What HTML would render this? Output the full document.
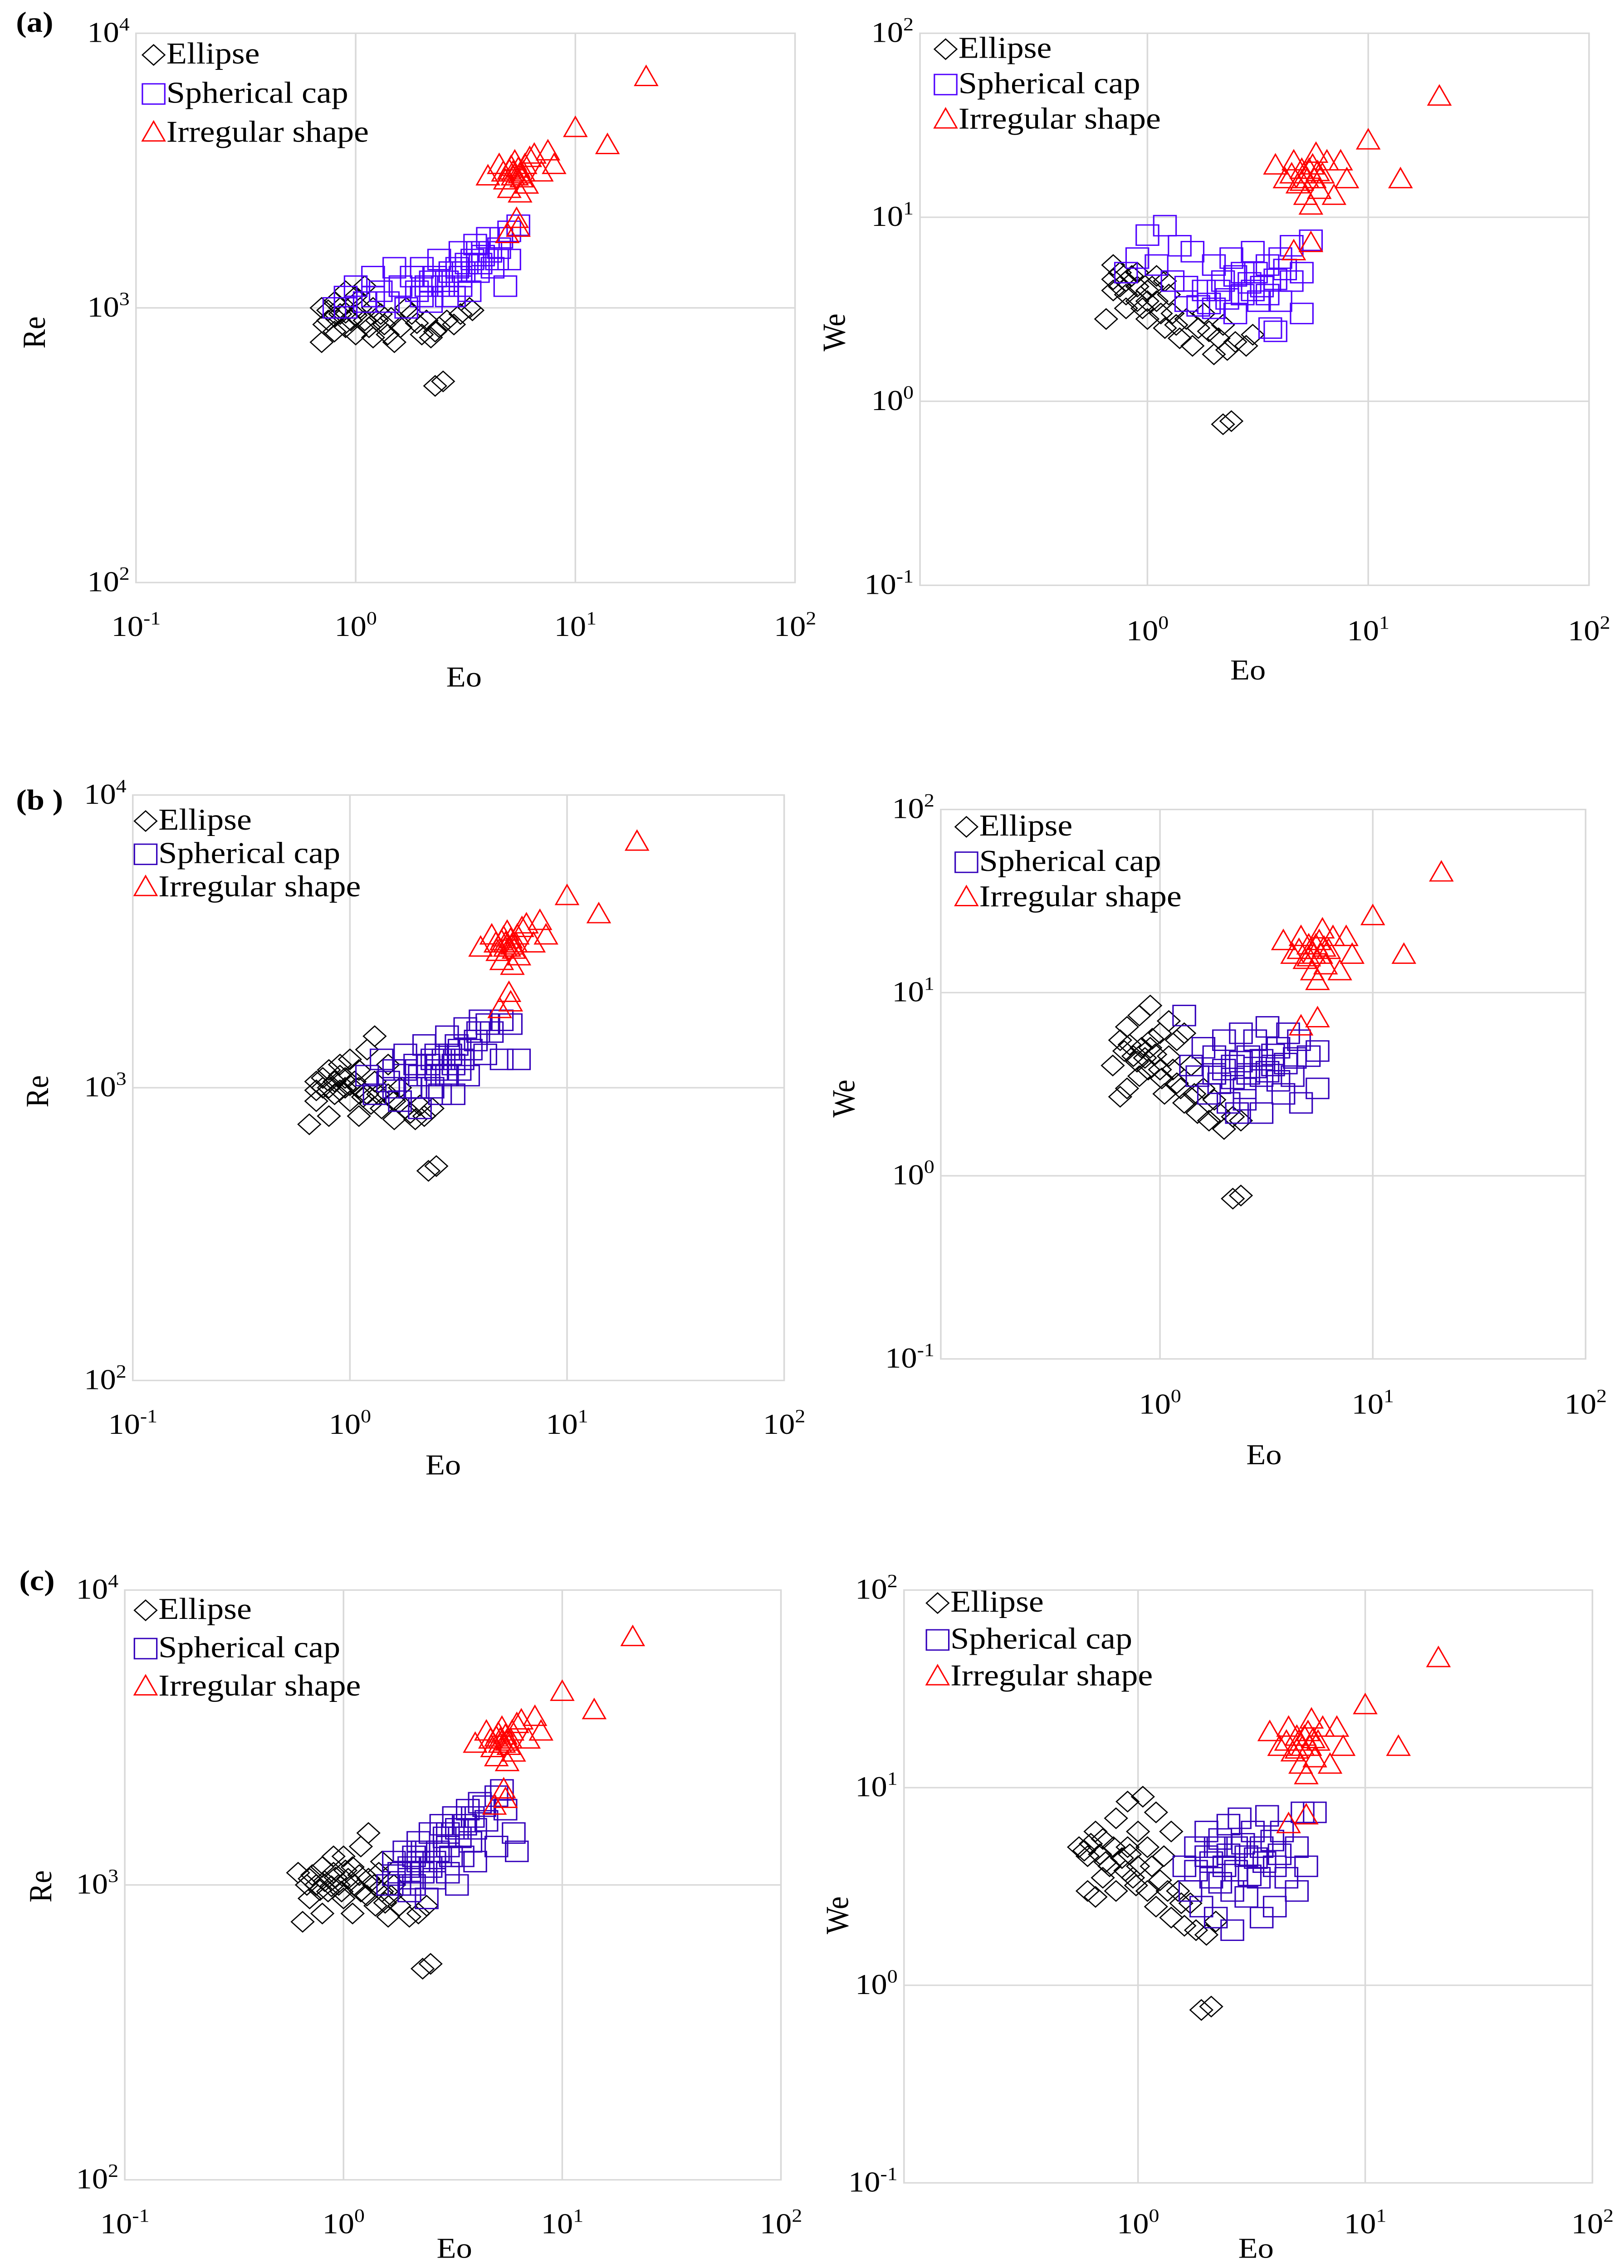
<!DOCTYPE html>
<html><head><meta charset="utf-8"><title>Re/We vs Eo scatter panels</title>
<style>html,body{margin:0;padding:0;background:#fff;width:100%;height:100%;overflow:hidden}svg{display:block;position:fixed;left:0;top:0;width:100vw;height:100vh}text{font-family:"Liberation Serif",serif;fill:#000}</style>
</head><body>
<svg id="fig" viewBox="0 0 1015 1569" preserveAspectRatio="none" xmlns="http://www.w3.org/2000/svg"></svg>
<script>
// ---- data (Eo, value) ----
const irregularRe=[[21,6900],[10,4500],[14,3900],[5.2,3000],[5.5,3200],[4.8,2900],[5.8,3100],[6.2,3500],[4.5,3300],[5,2700],[5.6,2600],[6.5,3600],[7.5,3700],[7,3100],[4,3000],[5.3,3400],[6,2800],[5.4,2100],[8,3300],[4.7,3100],[5.1,3250],[5.7,2950],[5.5,1950],[4.9,1850],[5.2,3100],[5.4,3000],[5.9,3300],[5.0,3150],[5.6,3050]];
const irregularWe=[[21,45],[10,26],[14,16],[5,18],[5.3,16],[4.8,15],[5.6,19],[6,14],[4.5,17],[5.8,22],[6.5,20],[7.5,20],[8,16],[7,13],[3.8,19],[4.2,16],[5.2,13],[5.5,11.5],[6.2,17],[4.6,20],[5.5,7.2],[4.6,6.5],[5.1,17],[5.4,18],[5.7,16],[5.0,15.5],[5.9,17.5]];
const ellipseReA=[[0.7,750],[0.75,900],[0.7,1000],[0.8,1050],[0.85,950],[0.9,850],[1.0,800],[1.1,900],[1.2,1000],[1.0,1100],[0.9,1150],[1.3,950],[1.4,800],[1.5,750],[1.6,850],[1.8,950],[2.0,800],[2.2,780],[2.4,850],[2.6,900],[3.0,950],[3.3,1000],[1.2,780],[0.8,820],[1.7,1000],[2.1,900],[2.3,520],[2.5,540],[1.1,1200],[3.4,980],[0.75,980],[0.8,930],[0.85,1000],[0.9,960],[0.95,900],[1.0,940],[1.05,1000],[1.15,850],[1.25,900],[1.35,870],[1.45,920],[1.9,880],[2.3,820],[2.8,870],[0.72,870]];
const capReA=[[0.8,1000],[0.9,1100],[1.0,1200],[1.1,1050],[1.2,1300],[1.3,1150],[1.5,1400],[1.6,1200],[1.8,1300],[2.0,1100],[2.0,1400],[2.2,1250],[2.4,1500],[2.5,1200],[2.7,1350],[3.0,1600],[3.0,1300],[3.2,1450],[3.5,1700],[3.6,1350],[3.8,1550],[4.0,1800],[4.2,1400],[4.5,1650],[5.0,1900],[5.5,2000],[5.0,1500],[4.8,1200],[1.4,1050],[2.8,1100],[3.3,1150],[1.7,1000],[2.1,1200],[2.3,1300],[2.6,1250],[2.9,1400],[3.1,1350],[3.4,1500],[3.7,1450],[4.1,1600],[4.4,1500],[1.9,1150],[2.2,1050],[2.6,1100],[3.0,1200],[3.6,1600],[4.6,1800],[1.2,1100],[0.9,1000]];
const ellipseReB=[[0.65,750],[0.7,1050],[0.7,900],[0.75,1000],[0.8,1150],[0.8,800],[0.85,950],[0.9,1100],[0.95,1000],[1.0,1250],[1.0,900],[1.05,1050],[1.1,1150],[1.1,800],[1.2,1350],[1.2,950],[1.3,1500],[1.3,1050],[1.4,850],[1.5,1200],[1.5,950],[1.6,780],[1.7,1000],[1.8,850],[2.0,780],[2.2,800],[2.4,850],[0.9,1200],[2.3,520],[2.5,540],[0.7,980],[0.75,1080],[0.8,1000],[0.85,1050],[0.9,980],[0.95,1080],[1.0,1020],[1.1,1000],[1.15,930],[1.25,880],[1.35,950],[1.6,900],[1.9,820],[2.1,870]];
const capReB=[[1.2,1100],[1.3,950],[1.4,1250],[1.5,1050],[1.6,1150],[1.7,900],[1.8,1300],[1.9,1000],[2.0,1200],[2.1,850],[2.2,1400],[2.3,1100],[2.5,1300],[2.6,950],[2.8,1500],[3.0,1200],[3.2,1350],[3.4,1600],[3.5,1100],[3.8,1450],[4.0,1700],[4.2,1300],[4.5,1550],[5.0,1700],[5.5,1650],[5.0,1250],[6.0,1250],[2.4,1000],[3.0,950],[1.8,1150],[2.1,1100],[2.3,1200],[2.5,1150],[2.7,1250],[2.9,1300],[3.1,1400],[3.3,1250],[3.6,1350],[3.9,1550],[4.3,1650],[2.0,1000],[2.4,1250],[2.8,1100],[3.2,1150],[1.6,1000]];
const ellipseReC=[[0.62,1100],[0.65,750],[0.7,1050],[0.7,900],[0.75,1000],[0.8,1150],[0.8,800],[0.85,950],[0.9,1100],[0.95,1000],[1.0,1250],[1.0,900],[1.05,1050],[1.1,1150],[1.1,800],[1.2,1350],[1.2,950],[1.3,1500],[1.3,1050],[1.4,850],[1.5,1200],[1.5,950],[1.6,780],[1.7,1000],[1.8,850],[2.0,780],[2.2,800],[2.4,850],[0.9,1250],[2.3,520],[2.5,540],[0.68,1000],[0.72,1080],[0.78,960],[0.82,1030],[0.88,990],[0.92,1060],[0.98,950],[1.02,1120],[1.12,1000],[1.18,1080],[1.28,920],[1.38,1000],[1.45,1100],[1.55,870],[1.65,920]];
const capReC=[[1.6,1000],[1.7,1200],[1.8,1100],[1.9,1300],[2.0,950],[2.1,1250],[2.2,1400],[2.3,1100],[2.5,1500],[2.6,1200],[2.8,1600],[3.0,1350],[3.0,1100],[3.2,1700],[3.4,1450],[3.5,1250],[3.7,1800],[4.0,1550],[4.2,1900],[4.5,1650],[5.0,2000],[5.3,2100],[5.5,1800],[6.0,1500],[5.0,1350],[4.0,1200],[2.4,900],[3.3,1000],[6.2,1300],[2.0,1150],[1.8,1000],[2.0,1050],[2.2,1200],[2.3,1300],[2.5,1150],[2.7,1300],[2.9,1450],[3.1,1250],[3.3,1550],[3.6,1600],[3.9,1700],[4.4,1850],[1.7,1080],[2.1,1000],[2.6,1050],[3.0,1500],[3.8,1400]];
const ellipseWeA=[[0.65,2.8],[0.7,4],[0.7,5.5],[0.8,4.5],[0.8,3.2],[0.9,5],[0.9,3.5],[1.0,4],[1.0,2.8],[1.1,3.5],[1.2,2.5],[1.2,4.5],[1.3,3],[1.4,2.2],[1.5,2.8],[1.6,2],[1.7,2.5],[1.8,3],[2.0,1.8],[2.1,2.2],[2.3,1.9],[2.5,2.1],[2.8,2.0],[3.0,2.3],[2.2,0.75],[2.4,0.78],[0.75,5.0],[1.1,4.8],[0.7,4.6],[0.75,4.2],[0.8,3.8],[0.85,4.8],[0.9,4.2],[0.95,3.2],[1.0,3.5],[1.05,4.2],[1.15,3.0],[1.25,3.8],[1.35,2.6],[1.9,2.4],[2.2,2.6]];
const capWeA=[[0.8,5],[0.9,6],[1.0,8],[1.1,5.5],[1.2,9],[1.3,4.5],[1.4,7],[1.5,3.5],[1.6,6.5],[1.8,4],[2.0,5.5],[2.0,3.2],[2.2,4.5],[2.4,6],[2.5,3],[2.7,5],[3.0,4],[3.0,6.5],[3.2,3.5],[3.5,5.5],[3.6,2.5],[4.0,6],[4.0,3.5],[4.5,7],[4.5,4.5],[5.0,5],[5.5,7.5],[5.0,3],[3.8,2.4],[1.7,3.3],[2.1,4.0],[2.3,3.6],[2.5,4.8],[2.7,3.8],[2.9,4.4],[3.1,5.0],[3.3,4.2],[3.5,3.8],[3.8,4.6],[4.2,5.2],[1.9,3.4],[1.5,4.2]];
const ellipseWeB=[[0.6,4],[0.65,5.5],[0.7,3],[0.7,6.5],[0.75,4.5],[0.8,7.5],[0.8,3.5],[0.9,5],[0.9,8.5],[1.0,6],[1.0,3.8],[1.05,2.8],[1.1,4.5],[1.1,7],[1.2,5.5],[1.2,3.2],[1.3,2.5],[1.4,4],[1.5,2.2],[1.6,3],[1.7,2],[1.8,2.6],[2.0,1.8],[2.2,2.1],[2.4,2.0],[1.3,6],[2.2,0.75],[2.4,0.78],[0.65,2.7],[0.68,4.8],[0.72,5.2],[0.78,4.2],[0.82,5.0],[0.85,4.4],[0.88,3.8],[0.92,5.6],[0.95,4.6],[1.02,3.4],[1.15,3.8],[1.25,3.0],[1.45,2.8],[1.9,2.2]];
const capWeB=[[1.3,7.5],[1.4,4],[1.5,3.5],[1.6,5],[1.7,2.8],[1.8,4.5],[1.9,3.2],[2.0,5.5],[2.1,2.5],[2.2,4],[2.4,6],[2.5,3],[2.6,4.5],[2.8,5.5],[3.0,3.5],[3.0,2.2],[3.2,6.5],[3.4,4],[3.6,5],[3.8,2.8],[4.0,6],[4.2,3.5],[4.5,5.5],[4.6,2.5],[5.0,4.5],[5.5,4.8],[5.5,3],[2.3,2.2],[2.0,3.8],[2.2,3.4],[2.4,4.2],[2.6,3.6],[2.8,3.9],[3.0,4.3],[3.2,3.7],[3.4,4.6],[3.6,3.3],[3.9,4.1],[4.3,4.4],[2.5,2.6],[1.8,3.6]];
const ellipseWeC=[[0.55,5],[0.6,4.5],[0.6,3],[0.65,6],[0.7,5.5],[0.7,3.5],[0.75,4],[0.8,7],[0.8,3],[0.9,5],[0.9,8.5],[0.95,3.5],[1.0,6],[1.0,4],[1.05,9],[1.1,5],[1.1,3],[1.2,7.5],[1.2,2.5],[1.3,4.5],[1.4,2.2],[1.5,3],[1.6,2],[1.7,2.6],[1.8,1.9],[2.0,1.8],[2.2,2.1],[1.4,6],[1.9,0.75],[2.1,0.78],[0.65,2.8],[0.58,4.8],[0.62,5.2],[0.68,4.6],[0.72,4.2],[0.78,5.0],[0.85,4.4],[0.88,3.8],[0.92,4.6],[0.98,3.2],[1.15,4.0],[1.25,3.4],[1.35,3.0],[1.55,2.6]];
const capWeC=[[1.6,4],[1.7,3],[1.8,5],[1.9,2.5],[2.0,4.5],[2.0,6],[2.1,3.5],[2.2,2.2],[2.3,5.5],[2.4,4],[2.5,6.5],[2.6,3],[2.7,5],[2.8,7],[3.0,4.5],[3.0,2.8],[3.2,6],[3.4,3.5],[3.5,5],[3.7,7.2],[4.0,4],[4.0,2.5],[4.3,6],[4.5,3.5],[5.0,5],[5.3,7.5],[5.5,4],[5.0,3],[2.6,1.9],[3.5,2.2],[6.0,7.5],[1.8,3.8],[2.1,4.2],[2.3,3.3],[2.5,4.6],[2.7,3.8],[2.9,5.2],[3.1,3.6],[3.3,4.4],[3.6,4.2],[3.9,5.4],[4.2,4.6],[2.2,5.0]];
const xTickExps=[-1,0,1,2];
const reTickExps=[2,3,4];
const weTickExps=[-1,0,1,2];
const legendLabels=["Ellipse","Spherical cap","Irregular shape"];

// ---- layout (pixels, not data) ----
const NS="http://www.w3.org/2000/svg";
const svg=document.getElementById('fig');
function el(tag,attrs,parent){const e=document.createElementNS(NS,tag);for(const k in attrs)e.setAttribute(k,attrs[k]);(parent||svg).appendChild(e);return e;}
function sup(g,x,y,exp,anchor,name){
  const t=el('text',{x:x,y:y,'font-size':20,'text-anchor':anchor},g);
  
  
  const a=el('tspan',{},t);a.textContent='10';
  const b=el('tspan',{dy:-8,'font-size':13},t);b.textContent=String(exp);
}
function marker(g,kind,x,y,cols){
  let m;
  if(kind===0){m=el('polygon',{points:`${x},${y-7} ${x+7},${y} ${x},${y+7} ${x-7},${y}`,fill:'none',stroke:cols[0],'stroke-width':0.8},g);}
  else if(kind===1){m=el('rect',{x:x-7,y:y-7,width:14,height:14,fill:'none',stroke:cols[1],'stroke-width':0.9},g);}
  else {m=el('polygon',{points:`${x},${y-8} ${x+7},${y+5.5} ${x-7},${y+5.5}`,fill:'none',stroke:cols[2],'stroke-width':0.9},g);}
  
}
function panel(c){
  const cols=["#000000",c.capColor,"#ff0000"];
  const g=el('g',{});
  
  
  const xs=v=>c.x0+(Math.log10(v)-c.xmin)*c.dx;
  const ys=v=>c.y0+(c.ymax-Math.log10(v))*c.dy;
  const xR=c.x0+(2-c.xmin)*c.dx, yB=c.y0+(c.ymax-c.ymin)*c.dy;
  [0,1].forEach(e=>{const l=el('line',{x1:xs(Math.pow(10,e)),x2:xs(Math.pow(10,e)),y1:c.y0,y2:yB,stroke:'#d9d9d9','stroke-width':1},g);});
  c.yTicks.forEach(e=>{if(e===c.ymin||e===c.ymax)return;const l=el('line',{x1:c.x0,x2:xR,y1:ys(Math.pow(10,e)),y2:ys(Math.pow(10,e)),stroke:'#d9d9d9','stroke-width':1},g);});
  const fr=el('rect',{x:c.x0,y:c.y0,width:xR-c.x0,height:yB-c.y0,fill:'none',stroke:'#d9d9d9','stroke-width':1},g);
  
  
  xTickExps.forEach(e=>{if(e<c.xLabelMin)return;sup(g,xs(Math.pow(10,e)),c.xLabelY,e,'middle','x-tick-label');});
  c.yTicks.forEach(e=>{sup(g,c.x0-4,ys(Math.pow(10,e))+c.yLabelDy,e,'end','y-tick-label');});
  const xt=el('text',{x:c.xTitleX,y:c.xTitleY,'font-size':20,'text-anchor':'middle'},g);xt.textContent='Eo';
  
  
  const yt=el('text',{x:c.yTitleX,y:c.yTitleY,'font-size':20,'text-anchor':'middle',transform:`rotate(-90 ${c.yTitleX} ${c.yTitleY})`},g);yt.textContent=c.yTitle;
  
  
  [c.e,c.s,c.i].forEach((arr,k)=>arr.forEach(p=>marker(g,k,xs(p[0]),ys(p[1]),cols)));
  legendLabels.forEach((lab,k)=>{
    const ly=c.leg[1]+k*c.legStep;
    marker(g,k,c.leg[0]+6,ly-6,cols);
    const t=el('text',{x:c.leg[0]+14,y:ly,'font-size':21},g);t.textContent=lab;
    
    
  });
  if(c.tag){const t=el('text',{x:c.tag[0],y:c.tag[1],'font-size':20,'font-weight':'bold'},g);t.textContent=c.tag[2];
    
    }
}
const L={xmin:-1,ymin:2,ymax:4,yTicks:reTickExps,yTitle:'Re',xLabelMin:-1,yLabelDy:6};
const R={xmin:-1.03,ymin:-1,ymax:2,yTicks:weTickExps,yTitle:'We',xLabelMin:0,yLabelDy:6};
panel(Object.assign({},L,{name:'panel-a-re',capColor:'#4f00ff',x0:85,y0:23,dx:137.3,dy:190,xLabelY:440,xTitleX:290,xTitleY:475,yTitleX:28,yTitleY:230,e:ellipseReA,s:capReA,i:irregularRe,leg:[90,44],legStep:27,tag:[10,22,'(a)']}));
panel(Object.assign({},R,{name:'panel-a-we',capColor:'#4f00ff',x0:575,y0:23,dx:138,dy:127.3,xLabelY:443,xTitleX:780,xTitleY:470,yTitleX:528,yTitleY:230,e:ellipseWeA,s:capWeA,i:irregularWe,leg:[585,40],legStep:24.5}));
panel(Object.assign({},L,{name:'panel-b-re',capColor:'#3300bb',x0:83,y0:550,dx:135.7,dy:202.5,xLabelY:992,xTitleX:277,xTitleY:1020,yTitleX:30,yTitleY:755,e:ellipseReB,s:capReB,i:irregularRe,leg:[85,574],legStep:23,tag:[10,560,'(b )']}));
panel(Object.assign({},R,{name:'panel-b-we',capColor:'#3300bb',x0:588,y0:560,dx:133,dy:126.7,xLabelY:978,xTitleX:790,xTitleY:1013,yTitleX:534,yTitleY:760,e:ellipseWeB,s:capWeB,i:irregularWe,leg:[598,578],legStep:24.5}));
panel(Object.assign({},L,{name:'panel-c-re',capColor:'#3300bb',x0:78,y0:1100,dx:136.7,dy:204,xLabelY:1545,xTitleX:284,xTitleY:1562,yTitleX:32,yTitleY:1305,e:ellipseReC,s:capReC,i:irregularRe,leg:[85,1120],legStep:26.5,tag:[12,1100,'(c)']}));
panel(Object.assign({},R,{name:'panel-c-we',capColor:'#3300bb',x0:565,y0:1100,dx:142,dy:136.7,xLabelY:1545,xTitleX:785,xTitleY:1562,yTitleX:530,yTitleY:1325,e:ellipseWeC,s:capWeC,i:irregularWe,leg:[580,1115],legStep:25.5}));
</script>
</body></html>
